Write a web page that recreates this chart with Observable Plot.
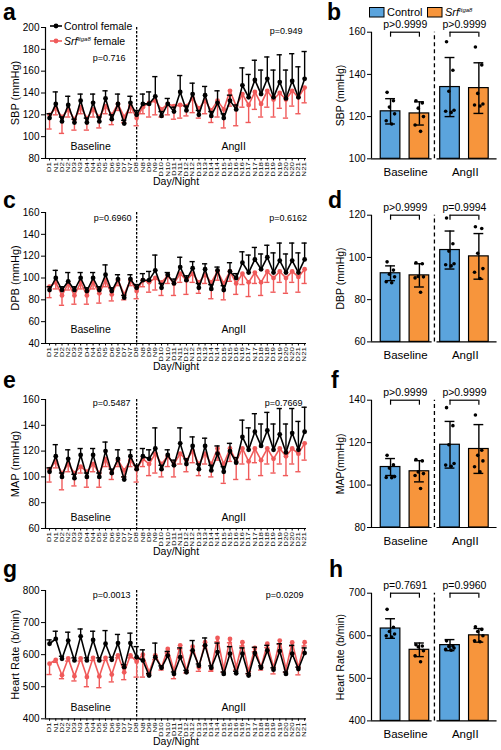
<!DOCTYPE html>
<html><head><meta charset="utf-8">
<script src="https://cdn.jsdelivr.net/npm/d3@7"></script>
<script src="https://cdn.jsdelivr.net/npm/@observablehq/plot@0.6"></script>
<style>
html,body{margin:0;padding:0;background:#fff;}
#fig{position:relative;width:501px;height:750px;overflow:hidden;background:#fff;font-family:"Liberation Sans",Arial,sans-serif;}
#fig svg{position:absolute;}
</style></head><body><div id="fig"></div>
<script>
// ---------- tick labels ----------
const dayNight = ["D1","N1","D2","N2","D3","N3","D4","N4","D5","N5","D6","N6","D7","N7","D8","N8","D9","N9","D10","N10","D11","N11","D12","N12","D13","N13","D14","N14","D15","N15","D16","N16","D17","N17","D18","N18","D19","N19","D20","N20","D21","N21"];
const groups = ["Baseline", "AngII"];

// ---------- time-course data (mean, and mean+SD for control / mean-SD for Srf) ----------
const sbpCtrlMean = [117,130,114,129,113,133,113,131,114,135,116,130,112,131,120, 130,130,137,119,130,123,141,124,139,120,138,119,131,117,133,125,147,136,152,139,153,136,150,135,151,136,153];
const sbpCtrlUp   = [121,141,118,137,116,139,117,139,118,142,120,139,115,137,124, 139,141,155,123,135,127,156,128,149,124,146,123,142,121,138,129,163,157,170,161,173,161,175,161,176,164,178];
const sbpSrfMean  = [120,126,118,125,116,127,117,125,118,128,120,130,118,128,117, 127,131,133,125,130,128,129,128,135,126,133,124,133,125,142,128,139,129,141,130,142,134,140,134,142,136,145];
const sbpSrfLow   = [107,120,103,118,106,121,106,118,108,121,111,124,113,122,110, 121,118,120,118,120,116,117,119,122,117,121,113,118,108,128,110,127,113,125,118,127,118,126,117,128,121,131];

const dbpCtrlMean = [89,100,89,97,89,100,88,100,89,103,88,99,82,99,91, 98,98,107,91,103,95,110,98,109,91,108,90,107,89,106,100,114,105,117,108,119,105,116,105,116,105,117];
const dbpCtrlUp   = [92,107,92,105,92,105,91,105,92,112,91,103,84,103,94, 104,106,121,95,105,99,119,102,115,95,113,94,110,93,114,104,124,121,128,122,130,123,132,122,132,123,132];
const dbpSrfMean  = [92,96,84,95,84,96,84,96,86,98,85,98,85,98,88, 98,96,100,96,102,95,104,98,104,96,103,96,106,95,106,95,104,96,105,96,106,100,106,100,106,101,108];
const dbpSrfLow   = [82,90,75,89,76,90,76,90,77,92,79,93,80,93,81, 92,87,89,84,95,84,96,85,96,86,95,81,98,80,97,85,94,83,95,84,96,87,96,86,96,87,95];

const mapCtrlMean = [104,116,100,114,99,117,100,117,100,120,103,114,98,116,106, 116,114,122,106,117,109,126,110,124,106,124,105,118,104,120,111,131,121,135,124,136,121,133,119,134,121,135];
const mapCtrlUp   = [107,125,103,121,102,122,103,122,103,127,106,121,100,121,109, 122,121,138,109,121,113,138,114,131,110,130,109,124,108,126,115,144,138,149,141,150,141,153,141,153,143,154];
const mapSrfMean  = [106,112,103,110,103,108,104,110,103,114,103,113,105,113,106, 114,110,118,110,116,110,118,113,120,110,118,110,122,110,122,112,122,112,122,113,122,114,122,116,122,118,126];
const mapSrfLow   = [96,107,90,104,93,103,92,104,92,108,98,108,100,108,96, 108,101,103,100,108,100,110,104,111,101,110,100,113,95,112,98,110,98,111,101,110,103,110,101,110,104,113];

const hrCtrlMean = [634,649,587,644,582,657,582,646,582,634,584,636,561,636,592, 582,535,592,559,597,540,592,545,613,565,629,559,608,540,603,542,603,535,605,559,613,553,611,540,603,555,605];
const hrCtrlUp   = [646,673,595,670,590,680,590,673,590,675,592,663,569,667,625, 615,541,636,565,610,546,621,551,644,571,652,565,636,546,625,548,621,541,623,565,629,559,634,546,629,561,621];
const hrSrfMean  = [572,584,536,588,533,588,530,590,532,590,538,598,545,598,578, 600,545,598,560,618,550,629,550,625,560,639,555,652,555,649,560,639,548,621,560,634,560,644,555,638,560,639];
const hrSrfLow   = [538,576,525,580,518,580,500,582,497,582,515,590,522,590,530, 530,538,585,552,605,525,617,543,613,548,627,548,640,545,637,552,627,540,609,552,622,540,632,545,626,537,627];

// ---------- bar data: order Control-Baseline, Srf-Baseline, Control-AngII, Srf-AngII ----------
const sbpBarMean = [122.5, 121.5, 134, 133.5];
const sbpBarSD   = [6, 5.5, 14, 12];
const sbpBarPts  = [[131.5,127.5,124.5,121.3,118,116.5],[127.5,126.5,124,120,116,113],[155.5,142,132,123,122.5,122],[153,144.5,131,126,125.5,125]];
const dbpBarMean = [92.5, 91.5, 103.5, 100.5];
const dbpBarSD   = [3.5, 5.5, 9, 10.8];
const dbpBarPts  = [[97.9,94,92,90.8,88.5,88],[97.5,97,91,90.8,90.3,83.5],[118.7,106.5,103,97,96.5,96],[114.5,113.7,102,94.7,93,90]];
const mapBarMean = [108.5, 106.5, 119, 117];
const mapBarSD   = [4, 5, 11, 11.5];
const mapBarPts  = [[114,109.5,108,104,103.6,103.5],[112,111.4,106.2,105.4,104.5,98.4],[136.5,128,119,110.2,109.4,108.9],[133,116.4,114,111.4,108.6,106.2]];
const hrBarMean  = [617, 567, 578, 601];
const hrBarSD    = [23, 16, 13, 16];
const hrBarPts   = [[662,620,610,604,600,597],[579,576,574,565,553,539],[588,576,575,571,568,566],[621,615,610,600,588,586]];

// ---------- styling ----------
const FONT = '"Liberation Sans", Arial, sans-serif';
const RED = "#f05a5a", BLUE = "#5ba4dd", ORANGE = "#f7953c";
const X0 = -0.65, X1 = 41.3;
const fig = document.getElementById("fig");

function place(svg, left, top) {
  svg.style.left = left + "px";
  svg.style.top = top + "px";
  svg.style.maxWidth = "none";
  fig.appendChild(svg);
}

function linePanel(c) {
  const idx = dayNight.map((_, i) => i);
  const ctrl = idx.map(i => ({i, m: c.ctrlMean[i], e: c.ctrlUp[i]}));
  const srf = idx.map(i => ({i, m: c.srfMean[i], e: c.srfLow[i]}));
  const mt = 27, mb = 34;
  const svg = Plot.plot({
    width: 325, height: mt + c.plotH + mb,
    marginLeft: 45, marginRight: 19, marginTop: mt, marginBottom: mb,
    style: {fontFamily: FONT, fontSize: "10px", background: "transparent", color: "black", overflow: "visible"},
    x: {domain: [X0, X1]},
    y: {domain: c.yDomain},
    marks: [
      Plot.ruleX([14], {strokeDasharray: "2.5,1.5", strokeWidth: 1.3}),
      Plot.ruleX(srf, {x: "i", y1: "m", y2: "e", stroke: RED, strokeWidth: 1.4}),
      Plot.ruleY(srf, {y: "e", x1: d => d.i - 0.42, x2: d => d.i + 0.42, stroke: RED, strokeWidth: 1.4}),
      Plot.line(srf, {x: "i", y: "m", stroke: RED, strokeWidth: 1.6}),
      Plot.dot(srf, {x: "i", y: "m", r: 2.4, fill: RED}),
      Plot.ruleX(ctrl, {x: "i", y1: "m", y2: "e", stroke: "black", strokeWidth: 1.4}),
      Plot.ruleY(ctrl, {y: "e", x1: d => d.i - 0.42, x2: d => d.i + 0.42, stroke: "black", strokeWidth: 1.4}),
      Plot.line(ctrl, {x: "i", y: "m", stroke: "black", strokeWidth: 1.6}),
      Plot.dot(ctrl, {x: "i", y: "m", r: 2.4, fill: "black"}),
      Plot.ruleX([X0], {strokeWidth: 1.2}),
      Plot.ruleY([c.yDomain[0]], {strokeWidth: 1.2}),
      Plot.axisY({ticks: c.yTicks, tickSize: 4, tickPadding: 2, label: null, fontSize: 10}),
      Plot.axisX({ticks: idx, tickFormat: i => dayNight[i], tickRotate: -90, tickSize: 2.5, tickPadding: 1, fontSize: 5.5, label: null}),
      Plot.text([c.yLabel], {text: d => d, frameAnchor: "left", rotate: -90, dx: -30, textAnchor: "middle", lineAnchor: "middle", fontSize: 11}),
      Plot.text(["Day/Night"], {text: d => d, frameAnchor: "bottom", dy: 23, lineAnchor: "middle", fontSize: 10.5}),
      Plot.text([groups[0]], {text: d => d, x: () => 6.6, frameAnchor: "bottom", dy: c.baseDy, lineAnchor: "middle", fontSize: 10.5}),
      Plot.text([groups[1]], {text: d => d, x: () => 29.6, frameAnchor: "bottom", dy: c.baseDy, lineAnchor: "middle", fontSize: 10.5}),
      ...c.pvals.map(p => Plot.text([p.t], {text: d => d, x: () => p.x, frameAnchor: "top", dy: p.dy, textAnchor: "end", lineAnchor: "middle", fontSize: 9}))
    ]
  });
  d3.select(svg).selectAll('g[aria-label="x-axis tick label"] text').each(function(){
    const t = this.getAttribute("transform");
    if (t && t.includes("rotate")) this.setAttribute("transform", t + " scale(1.45,1)");
  });
  place(svg, 0, c.top);
}

const jit = [-0.12, 0.1, -0.04, 0.14, -0.15, 0.04];
function barPanel(c) {
  const [y0, y1] = c.yDomain;
  const xs = [0.66, 1.66, 2.72, 3.72];
  const colors = [BLUE, ORANGE, BLUE, ORANGE];
  const bars = c.means.map((m, k) => ({x: xs[k], m, sd: c.sds[k], c: colors[k]}));
  const dots = c.pts.flatMap((arr, k) => arr.map((v, j) => ({x: xs[k] + jit[j], y: v})));
  const u = (y1 - y0) / c.plotH;
  const mt = 31.7, mb = 30;
  const svg = Plot.plot({
    width: 176, height: mt + c.plotH + mb,
    marginLeft: 46, marginRight: 3, marginTop: mt, marginBottom: mb,
    style: {fontFamily: FONT, fontSize: "10px", background: "transparent", color: "black", overflow: "visible"},
    x: {domain: [0, 4.4], axis: null},
    y: {domain: c.yDomain},
    color: {type: "identity"},
    marks: [
      Plot.rect(bars, {x1: d => d.x - 0.34, x2: d => d.x + 0.34, y1: () => y0, y2: "m", fill: "c", stroke: "black", strokeWidth: 1.2}),
      Plot.ruleX(bars, {x: "x", y1: d => d.m - d.sd, y2: d => d.m + d.sd, strokeWidth: 1.4}),
      Plot.ruleY(bars, {y: d => d.m + d.sd, x1: d => d.x - 0.17, x2: d => d.x + 0.17, strokeWidth: 1.4}),
      Plot.ruleY(bars, {y: d => d.m - d.sd, x1: d => d.x - 0.17, x2: d => d.x + 0.17, strokeWidth: 1.4}),
      Plot.dot(dots, {x: "x", y: "y", r: 1.8, fill: "black"}),
      Plot.ruleX([2.18], {y1: () => y0, y2: () => y1, strokeDasharray: "4,3", strokeWidth: 1.3}),
      Plot.ruleX([0], {strokeWidth: 1.2}),
      Plot.ruleY([y0], {x1: () => 0, x2: () => 2.1, strokeWidth: 1.2}),
      Plot.ruleY([y0], {x1: () => 2.27, x2: () => 4.35, strokeWidth: 1.2}),
      Plot.axisY({ticks: c.yTicks, tickSize: 4, tickPadding: 2, label: null, fontSize: 10}),
      Plot.text([c.yLabel], {text: d => d, frameAnchor: "left", rotate: -90, dx: -31, textAnchor: "middle", lineAnchor: "middle", fontSize: 10.5}),
      Plot.text(groups, {text: d => d, x: (d, i) => [1.18, 3.25][i], frameAnchor: "bottom", dy: 13.5, lineAnchor: "middle", fontSize: 11.5}),
      Plot.ruleY([0, 1], {y: () => y1, x1: g => xs[2 * g], x2: g => xs[2 * g + 1], strokeWidth: 1.2}),
      Plot.ruleX(xs, {x: d => d, y1: () => y1, y2: () => y1 - 5 * u, strokeWidth: 1.2}),
      Plot.text(c.pvals, {text: d => d, x: (d, i) => [1.17, 3.22][i], frameAnchor: "top", dy: -8, lineAnchor: "middle", fontSize: 10.5})
    ]
  });
  place(svg, 325, c.top);
}

linePanel({ctrlMean: sbpCtrlMean, ctrlUp: sbpCtrlUp, srfMean: sbpSrfMean, srfLow: sbpSrfLow,
  yDomain: [80, 200], yTicks: [80,100,120,140,160,180,200], yLabel: "SBP (mmHg)", top: 0, plotH: 131, baseDy: -11.5,
  pvals: [{t: "p=0.716", x: 12.2, dy: 31}, {t: "p=0.949", x: 40.65, dy: 4}]});
linePanel({ctrlMean: dbpCtrlMean, ctrlUp: dbpCtrlUp, srfMean: dbpSrfMean, srfLow: dbpSrfLow,
  yDomain: [40, 160], yTicks: [40,60,80,100,120,140,160], yLabel: "DPB (mmHg)", top: 184.7, plotH: 131, baseDy: -13.7,
  pvals: [{t: "p=0.6960", x: 13.17, dy: 5.3}, {t: "p=0.6162", x: 41.4, dy: 5.3}]});
linePanel({ctrlMean: mapCtrlMean, ctrlUp: mapCtrlUp, srfMean: mapSrfMean, srfLow: mapSrfLow,
  yDomain: [60, 160], yTicks: [60,80,100,120,140,160], yLabel: "MAP (mmHg)", top: 372.3, plotH: 129, baseDy: -11,
  pvals: [{t: "p=0.5487", x: 13.0, dy: 3.7}, {t: "p=0.7669", x: 40.65, dy: 3.7}]});
linePanel({ctrlMean: hrCtrlMean, ctrlUp: hrCtrlUp, srfMean: hrSrfMean, srfLow: hrSrfLow,
  yDomain: [400, 800], yTicks: [400,500,600,700,800], yLabel: "Heart Rate (b/min)", top: 563, plotH: 128.3, baseDy: -11,
  pvals: [{t: "p=0.0013", x: 13.0, dy: 5}, {t: "p=0.0209", x: 40.8, dy: 5}]});

barPanel({means: sbpBarMean, sds: sbpBarSD, pts: sbpBarPts, yDomain: [100, 160], yTicks: [100,120,140,160],
  yLabel: "SBP (mmHg)", pvals: ["p>0.9999", "p>0.9999"], top: 0, plotH: 126.6});
barPanel({means: dbpBarMean, sds: dbpBarSD, pts: dbpBarPts, yDomain: [60, 120], yTicks: [60,80,100,120],
  yLabel: "DBP (mmHg)", pvals: ["p>0.9999", "p=0.9994"], top: 183.3, plotH: 126.7});
barPanel({means: mapBarMean, sds: mapBarSD, pts: mapBarPts, yDomain: [80, 140], yTicks: [80,100,120,140],
  yLabel: "MAP(mmHg)", pvals: ["p>0.9999", "p>0.9999"], top: 368.3, plotH: 127.3});
barPanel({means: hrBarMean, sds: hrBarSD, pts: hrBarPts, yDomain: [400, 700], yTicks: [400,500,600,700],
  yLabel: "Heart Rate (b/min)", pvals: ["p=0.7691", "p=0.9960"], top: 560.6, plotH: 127.7});

// ---------- overlay: panel letters and legends ----------
const ov = d3.select(fig).append("svg").attr("width", 501).attr("height", 750)
  .style("left", "0px").style("top", "0px").attr("font-family", FONT);
const letters = [["a",3,20],["b",327,20],["c",3,208],["d",328,208],["e",3,388],["f",331,388],["g",3,577],["h",329,577]];
ov.selectAll("text.lt").data(letters).join("text").attr("class","lt")
  .attr("x", d => d[1]).attr("y", d => d[2]).attr("font-size", 23).attr("font-weight", "bold").text(d => d[0]);

// legend a
const la = ov.append("g");
[["black", 26], [RED, 41]].forEach(([col, y]) => {
  la.append("line").attr("x1", 50).attr("x2", 62).attr("y1", y).attr("y2", y).attr("stroke", col).attr("stroke-width", 1.6);
  la.append("circle").attr("cx", 56).attr("cy", y).attr("r", 2.4).attr("fill", col);
});
la.append("text").attr("x", 64).attr("y", 29.8).attr("font-size", 10.5).text("Control female");
const t2 = la.append("text").attr("x", 64).attr("y", 44.8).attr("font-size", 10.5);
t2.append("tspan").attr("font-style", "italic").text("Srf");
t2.append("tspan").attr("font-style", "italic").attr("font-size", 6).attr("dy", -4).text("Itga8");
t2.append("tspan").attr("dy", 4).text(" female");

// legend b
const lb = ov.append("g");
lb.append("rect").attr("x", 369.5).attr("y", 7.5).attr("width", 14.5).attr("height", 9.5).attr("fill", BLUE).attr("stroke", "black");
lb.append("text").attr("x", 387).attr("y", 16).attr("font-size", 11).text("Control");
lb.append("rect").attr("x", 427.5).attr("y", 7.5).attr("width", 14.5).attr("height", 9.5).attr("fill", ORANGE).attr("stroke", "black");
const t3 = lb.append("text").attr("x", 445).attr("y", 16).attr("font-size", 11);
t3.append("tspan").attr("font-style", "italic").text("Srf");
t3.append("tspan").attr("font-style", "italic").attr("font-size", 6).attr("dy", -4.5).text("Itga8");
</script></body></html>
